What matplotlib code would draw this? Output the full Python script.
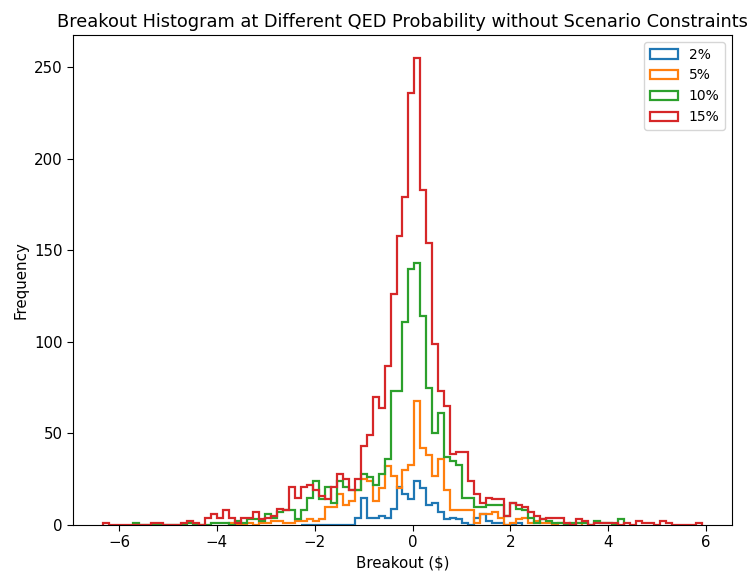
import matplotlib
matplotlib.use("Agg")
import matplotlib.pyplot as plt
import numpy as np

# common bin grid (100 bins)
EDGE_LO, EDGE_HI, N_BINS = -6.33, 5.92, 100

LABELS = ["2%", "5%", "10%", "15%"]
COLORS = ["#1f77b4", "#ff7f0e", "#2ca02c", "#d62728"]

# counts per bin, each series starts at its own bin index
start_2 = 33
counts_2 = [0, 0, 0, 0, 0, 0, 0, 0, 0, 4, 15, 4, 4, 5, 4, 9, 21, 17, 14, 24,
            20, 11, 12, 7, 3, 4, 3, 1, 0, 4, 6, 2, 1, 1, 0, 0, 1]

start_5 = 21
counts_5 = [1, 0, 0, 1, 0, 1, 1, 2, 2, 1, 1, 2, 2, 3, 2, 3, 10, 10, 17, 11,
            13, 19, 25, 24, 13, 20, 32, 27, 20, 30, 33, 68, 42, 38, 27, 36, 19, 8, 8, 8,
            8, 1, 6, 6, 7, 4, 0, 1, 3, 4, 1, 2, 1, 1, 0, 1, 0, 0, 1]

start_10 = 5
counts_10 = [1, 0, 0, 0, 0, 0, 0, 0, 0, 1, 0, 0, 0, 1, 1, 1, 0, 2, 1, 3,
             3, 2, 6, 4, 7, 8, 8, 3, 8, 15, 24, 14, 21, 12, 24, 21, 19, 19, 28, 26,
             22, 28, 36, 73, 73, 111, 140, 143, 114, 75, 50, 61, 37, 35, 33, 15, 15, 10, 10, 11,
             11, 11, 5, 12, 9, 8, 4, 1, 3, 2, 1, 1, 0, 1, 1, 1, 0, 2, 1, 1,
             0, 3]

start_15 = 0
counts_15 = [1, 0, 0, 0, 0, 0, 0, 0, 1, 1, 0, 0, 0, 1, 2, 1, 0, 4, 6, 4,
             8, 4, 1, 4, 4, 7, 3, 4, 5, 9, 8, 21, 15, 21, 22, 19, 16, 14, 21, 28,
             25, 19, 25, 43, 49, 70, 64, 87, 126, 158, 179, 236, 255, 183, 154, 99, 73, 65, 39, 40,
             40, 24, 17, 12, 15, 14, 14, 5, 12, 11, 10, 7, 5, 3, 4, 4, 4, 1, 0, 3,
             2, 0, 1, 1, 1, 1, 0, 1, 0, 2, 1, 1, 0, 2, 1, 0, 0, 0, 0, 1]

series = [(start_2, counts_2), (start_5, counts_5), (start_10, counts_10), (start_15, counts_15)]

edges = np.linspace(EDGE_LO, EDGE_HI, N_BINS + 1)

plt.rcParams["font.size"] = 10.8

fig, ax = plt.subplots(figsize=(7.48, 5.74), dpi=100)
fig.subplots_adjust(left=0.0976, right=0.9786, bottom=0.0854, top=0.939)

for (start, counts), label, color in zip(series, LABELS, COLORS):
    e = edges[start:start + len(counts) + 1]
    centers = (e[:-1] + e[1:]) / 2
    ax.hist(centers, bins=e, weights=counts, histtype="step",
            color=color, linewidth=1.6, label=label)

ax.set_title("Breakout Histogram at Different QED Probability without Scenario Constraints",
             fontsize=12.8)
ax.set_xlabel("Breakout (\\$)")
ax.set_ylabel("Frequency")
ax.tick_params(length=4)
ax.legend(loc="upper right", fontsize=10)

fig.savefig("out.png", dpi=100)
